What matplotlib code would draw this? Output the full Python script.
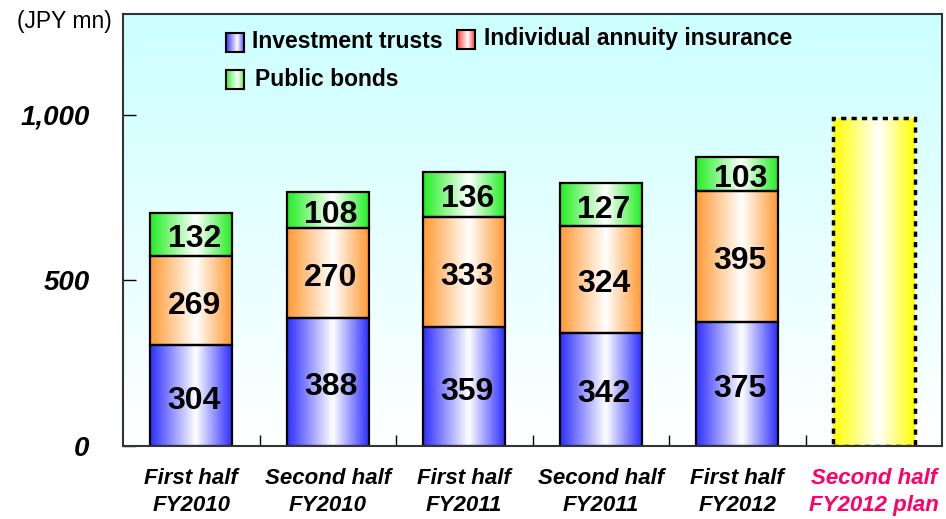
import numpy as np
import matplotlib
matplotlib.use("Agg")
import matplotlib.pyplot as plt
from matplotlib.colors import LinearSegmentedColormap
from matplotlib.transforms import offset_copy

plt.rcParams['font.family'] = ['Liberation Sans', 'DejaVu Sans']

categories = ["First half\nFY2010", "Second half\nFY2010", "First half\nFY2011",
              "Second half\nFY2011", "First half\nFY2012", "Second half\nFY2012 plan"]
investment_trusts = [304, 388, 359, 342, 375]
annuity_insurance = [269, 270, 333, 324, 395]
public_bonds = [132, 108, 136, 127, 103]
plan_total = [990]
series_names = ["Investment trusts", "Individual annuity insurance", "Public bonds"]
y_ticks = [0, 500, 1000]
y_tick_labels = ["0", "500", "1,000"]

W, H = 946, 519
fig = plt.figure(figsize=(W / 100, H / 100), dpi=100)
ax = fig.add_axes([123 / W, 73 / H, (942 - 123) / W, (446 - 14) / H])
YMAX = 1305


def hgrad_cmap(color, wpos=0.56):
    return LinearSegmentedColormap.from_list('g', [(0, color), (wpos, 'white'), (1, color)])


grad = np.linspace(0, 1, 256).reshape(1, -1)

# background
bg = LinearSegmentedColormap.from_list('bg', [(0, 'white'), (1, '#CCFFFF')])
ax.imshow(np.linspace(0, 1, 256).reshape(-1, 1)[::-1], extent=[-0.5, 5.5, 0, YMAX],
          aspect='auto', cmap=bg, zorder=0, interpolation='bicubic')

label_tr = offset_copy(ax.transData, fig=fig, x=3, y=-5, units='dots')

x = np.arange(len(investment_trusts))
colors = ['#2E2EFF', '#FF9933', '#22EE22']
bottom = np.zeros(len(x))
for vals, col in zip([investment_trusts, annuity_insurance, public_bonds], colors):
    bars = ax.bar(x, vals, 0.6, bottom=bottom, facecolor='none', edgecolor='black',
                  linewidth=1.6, zorder=3)
    for b, v in zip(bars, vals):
        x0, y0, w, h = b.get_x(), b.get_y(), b.get_width(), b.get_height()
        ax.imshow(grad, extent=[x0, x0 + w, y0, y0 + h], aspect='auto',
                  cmap=hgrad_cmap(col), zorder=2, interpolation='bicubic')
        ax.text(x0 + w / 2, y0 + h / 2, str(v), ha='center', va='center',
                fontsize=23, fontweight='bold', zorder=4, transform=label_tr)
    bottom = bottom + np.array(vals)

# plan bar
pb = ax.bar([5], plan_total, 0.6, facecolor='none', edgecolor='black', linewidth=2.5,
            linestyle=(0, (1.5, 1.5)), zorder=3)
for b in pb:
    x0, y0, w, h = b.get_x(), b.get_y(), b.get_width(), b.get_height()
    ax.imshow(grad, extent=[x0, x0 + w, y0, y0 + h], aspect='auto',
              cmap=hgrad_cmap('#FFFF00'), zorder=2, interpolation='bicubic')

ax.set_xlim(-0.5, 5.5)
ax.set_ylim(0, YMAX)
for s in ax.spines.values():
    s.set_color('#333333')
    s.set_linewidth(1.5)
    s.set_zorder(5)

ax.set_yticks(y_ticks)
ax.set_yticklabels(y_tick_labels, fontsize=20, fontweight='bold', fontstyle='italic')
ax.tick_params(axis='y', direction='in', length=9, width=1, pad=24)
ax.set_xticks(np.arange(len(categories)))
ax.set_xticklabels(categories, fontsize=16, fontweight='bold', fontstyle='italic',
                   linespacing=1.35)
ax.get_xticklabels()[-1].set_color('#FF0066')
ax.tick_params(axis='x', length=0, pad=16)
ax.set_xticks(np.arange(len(categories) - 1) + 0.5, minor=True)
ax.tick_params(axis='x', which='minor', direction='in', length=8, width=1)

fig.text(17 / W, 1 - 22 / H, "(JPY mn)", fontsize=16.5, va='center', ha='left')

# legend
legend_items = [
    (series_names[0], '#3333FF', 226, 33, 252, 42),
    (series_names[1], '#FF3333', 457, 30, 484, 39),
    (series_names[2], '#33EE33', 226, 70, 255, 80),
]
for name, col, px, py, tx, ty in legend_items:
    la = fig.add_axes([px / W, 1 - (py + 19) / H, 18 / W, 19 / H])
    la.imshow(grad, aspect='auto', cmap=hgrad_cmap(col, 0.6), interpolation='bicubic')
    la.set_xticks([]); la.set_yticks([])
    for s in la.spines.values():
        s.set_linewidth(1.5); s.set_color('black')
    fig.text(tx / W, 1 - ty / H, name, fontsize=16.5, fontweight='bold', va='center', ha='left')

fig.savefig('out.png', dpi=100)
